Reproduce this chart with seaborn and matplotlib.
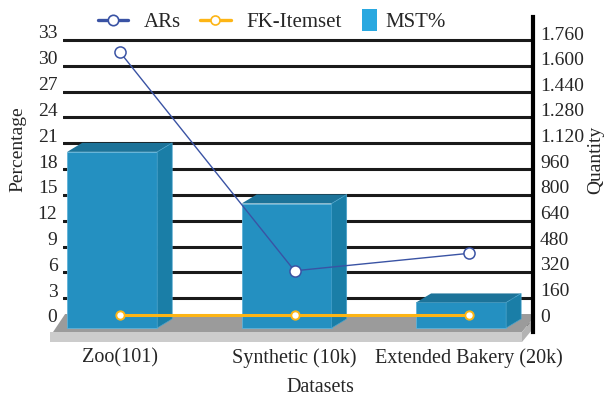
import numpy as np
import pandas as pd
import matplotlib
matplotlib.use("Agg")
import matplotlib.pyplot as plt
import matplotlib.transforms as mtransforms
from matplotlib.patches import Polygon, Patch, Rectangle
from matplotlib.lines import Line2D
from matplotlib.legend_handler import HandlerPatch
from matplotlib.ticker import FuncFormatter, FixedLocator
import seaborn as sns

# ---- data ----
categories = ["Zoo(101)", "Synthetic (10k)", "Extended Bakery (20k)"]
mst_pct = [20.0, 14.0, 2.5]          # MST% (left axis, bars)
ars = [1640, 276, 385]               # ARs (right axis)
fk_itemset = [0, 0, 0]               # FK-Itemset (right axis)
left_ticks = list(range(0, 34, 3))
right_ticks = list(range(0, 1761, 160))

# ---- style ----
sns.set_theme(style="white")
plt.rcParams["font.family"] = ["Liberation Serif", "DejaVu Serif"]
TXT = "#262626"
FRONT, TOP, SIDE = "#2490c1", "#1c7399", "#1a7ea7"
AR_COL, FK_COL = "#3a53a4", "#fdb515"
TICK_FS, LABEL_FS, LEG_FS = 14, 14, 15

fig = plt.figure(figsize=(6.05, 4.0), dpi=100)
W, H = 605, 400
ax_l, ax_r, ax_t, ax_b = 63, 533, 17, 332
ax = fig.add_axes([ax_l / W, 1 - ax_b / H, (ax_r - ax_l) / W, (ax_b - ax_t) / H])

x = np.arange(len(categories))
XLIM = (-0.327, 2.367)
ax.set_xlim(*XLIM)
ax.set_ylim(-0.93, 35.67)

# back-wall gridlines
ax.set_axisbelow(True)
ax.yaxis.set_major_locator(FixedLocator(left_ticks))
ax.grid(axis="y", color="#1a1a1a", linewidth=2.2)
ax.grid(axis="x", visible=False)
for s in ax.spines.values():
    s.set_visible(False)

# floor of the 3D plot area
floor = [
    Polygon([(-0.315, 1.16), (2.361, 1.16), (2.361, 0.45), (2.304, -0.93), (-0.384, -0.93)],
            closed=True, facecolor="#9b9b9b", edgecolor="none", zorder=1, clip_on=False),
    Polygon([(-0.401, -0.93), (2.304, -0.93), (2.304, -2.09), (-0.401, -2.09)],
            closed=True, facecolor="#cccccc", edgecolor="none", zorder=1, clip_on=False),
    Polygon([(2.304, -0.93), (2.361, 0.45), (2.361, -0.70), (2.304, -2.09)],
            closed=True, facecolor="#b3b3b3", edgecolor="none", zorder=1, clip_on=False),
]
for p in floor:
    ax.add_patch(p)

# front faces of the columns
df = pd.DataFrame({"x": categories, "mst": mst_pct})
sns.barplot(data=df, x="x", y="mst", ax=ax, color=FRONT, saturation=1, width=0.516,
            edgecolor="#5fb2d8", linewidth=0.6, zorder=3)
ax.set_xlim(*XLIM)
ax.set_ylim(-0.93, 35.67)

base = -0.46      # columns stand slightly in front of the wall
shift = -0.045    # front face sits left of the category centre
dx, dy = 0.086, 1.05  # depth offset of the 3D extrusion
for bar in [p for p in ax.patches if p not in floor]:
    top = bar.get_y() + bar.get_height()
    bar.set_x(bar.get_x() + shift)
    bar.set_y(base)
    bar.set_height(top - base)
    x0, x1 = bar.get_x(), bar.get_x() + bar.get_width()
    ax.add_patch(Polygon([(x0, top), (x0 + dx, top + dy), (x1 + dx, top + dy), (x1, top)],
                         closed=True, facecolor=TOP, edgecolor="none", zorder=3))
    ax.add_patch(Polygon([(x1, base), (x1, top), (x1 + dx, top + dy), (x1 + dx, base + dy)],
                         closed=True, facecolor=SIDE, edgecolor="#4aa3cc", linewidth=0.5, zorder=3))

ax.set_xticks(x)
ax.set_xticklabels(categories)
ax.tick_params(axis="x", length=0, pad=12, labelsize=TICK_FS + 0.5, labelcolor=TXT)
ax.tick_params(axis="y", length=0, pad=4, labelsize=TICK_FS, labelcolor=TXT)
ax.set_xlabel("")
ax.set_ylabel("")
lift = mtransforms.ScaledTranslation(0, 8 / 100, fig.dpi_scale_trans)
for t in ax.yaxis.get_major_ticks():
    t.label1.set_transform(t.label1.get_transform() + lift)

# right axis: quantities
ax2 = ax.twinx()
ax2.set_ylim(-106, 1860)
for name, s in ax2.spines.items():
    s.set_visible(name == "right")
ax2.spines["right"].set_linewidth(3)
ax2.spines["right"].set_color("black")
ax2.yaxis.set_major_locator(FixedLocator(right_ticks))
ax2.yaxis.set_major_formatter(FuncFormatter(lambda v, p: f"{v:,.0f}".replace(",", ".")))
ax2.tick_params(axis="y", length=0, pad=5, labelsize=TICK_FS, labelcolor=TXT)
ax2.grid(False)

sns.lineplot(x=x, y=fk_itemset, ax=ax2, color=FK_COL, linewidth=2.2, marker="o",
             markersize=6, markerfacecolor="white", markeredgecolor=FK_COL,
             markeredgewidth=1.4, zorder=5)
sns.lineplot(x=x, y=ars, ax=ax2, color=AR_COL, linewidth=1.0, marker="o",
             markersize=8, markerfacecolor="white", markeredgecolor=AR_COL,
             markeredgewidth=1.1, zorder=6)
ax2.set_xlim(*XLIM)
ax2.set_ylabel("")

# axis titles
fig.text(18 / W, 1 - 149 / H, "Percentage", rotation=90, ha="center", va="center",
         fontsize=LABEL_FS, color=TXT)
fig.text(596 / W, 1 - 160 / H, "Quantity", rotation=90, ha="center", va="center",
         fontsize=LABEL_FS, color=TXT)
fig.text(320 / W, 1 - 388 / H, "Datasets", ha="center", va="center",
         fontsize=LABEL_FS + 0.5, color=TXT)


# legend: line series, then a narrow column icon for the bar series
def column_icon(legend, orig_handle, xdescent, ydescent, width, height, fontsize):
    return Rectangle((-xdescent, -ydescent - 0.2 * height), width, 1.4 * height)


line_handles = [
    Line2D([], [], color=AR_COL, linewidth=2.4, marker="o", markersize=7.5,
           markerfacecolor="white", markeredgecolor=AR_COL, markeredgewidth=1.2),
    Line2D([], [], color=FK_COL, linewidth=2.4, marker="o", markersize=6.5,
           markerfacecolor="white", markeredgecolor=FK_COL, markeredgewidth=1.2),
]
fig.legend(line_handles, ["ARs", "FK-Itemset"], loc="center left", ncol=2,
           bbox_to_anchor=(98 / W, 1 - 22 / H), frameon=False, fontsize=LEG_FS,
           borderpad=0, borderaxespad=0,
           handlelength=1.45, handletextpad=0.77, columnspacing=0.91, labelcolor=TXT)
fig.legend([Patch(facecolor="#29a8e0", edgecolor="none")], ["MST%"], loc="center left",
           bbox_to_anchor=(362 / W, 1 - 22 / H), frameon=False, fontsize=LEG_FS,
           borderpad=0, borderaxespad=0, handlelength=0.72, handleheight=0.8,
           handletextpad=0.38, labelcolor=TXT,
           handler_map={Patch: HandlerPatch(patch_func=column_icon)})

fig.savefig("out.png", dpi=100)
